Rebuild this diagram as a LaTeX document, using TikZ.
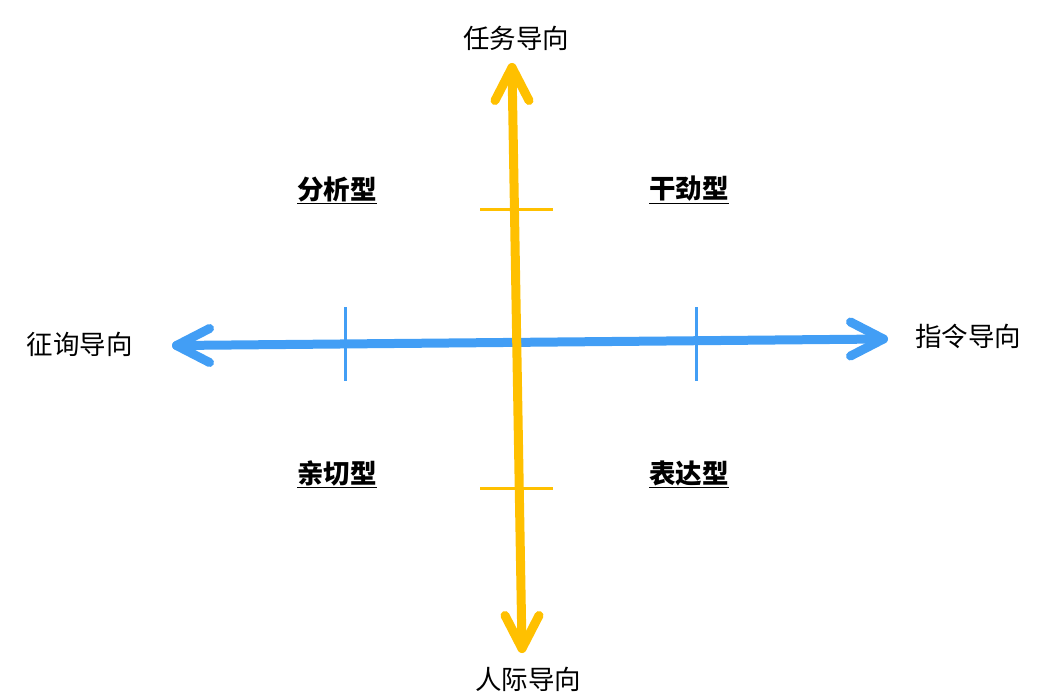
\documentclass[tikz,border=0pt]{standalone}
\usepackage{fontspec}
\newfontfamily\cjk{Noto Sans CJK SC}
\usetikzlibrary{calc}
\definecolor{axblue}{RGB}{66,158,245}
\definecolor{axyellow}{RGB}{255,192,0}
\begin{document}
\begin{tikzpicture}[x=1pt,y=-1pt,
  axis/.style={line width=9pt,line cap=round,line join=round},
  tick/.style={line width=3pt},
  lab/.style={font=\cjk\fontsize{26.5}{30}\selectfont,inner sep=0pt},
  quad/.style={font=\cjk\bfseries\fontsize{26.5}{30}\selectfont,inner sep=0pt}]
\useasboundingbox (0,0) rectangle (1057,693);
\coordinate (L) at (176.5,345.5);
\coordinate (R) at (883.5,339);
\coordinate (T) at (512,67.5);
\coordinate (B) at (522,648.5);
\node[lab] (tT) at (516,38) {任务导向};
\node[lab] (tB) at (528,679) {人际导向};
\node[lab] (tL) at (80,344) {征询导向};
\node[lab] (tR) at (968,336) {指令导向};
\node[quad] (q1) at (337,190) {\underline{分析型}};
\node[quad] (q2) at (689,190) {\underline{干劲型}};
\node[quad] (q3) at (337,474) {\underline{亲切型}};
\node[quad] (q4) at (689,474) {\underline{表达型}};
\draw[tick,axyellow] (480,209) -- (553,209);
\draw[tick,axyellow] (480,488) -- (553,488);
\draw[tick,axblue] (345,307) -- (345,381);
\draw[tick,axblue] (696,307) -- (696,381);
\draw[axis,axblue] (L) -- (R);
\draw[axis,axblue] ($(L)+(33,-17)$) -- (L) -- ($(L)+(33,17)$);
\draw[axis,axblue] ($(R)+(-33,-17)$) -- (R) -- ($(R)+(-33,17)$);
\draw[axis,axyellow] (T) -- (B);
\draw[axis,axyellow] ($(T)+(-17,33)$) -- (T) -- ($(T)+(17,33)$);
\draw[axis,axyellow] ($(B)+(-17,-33)$) -- (B) -- ($(B)+(17,-33)$);
\end{tikzpicture}
\end{document}
